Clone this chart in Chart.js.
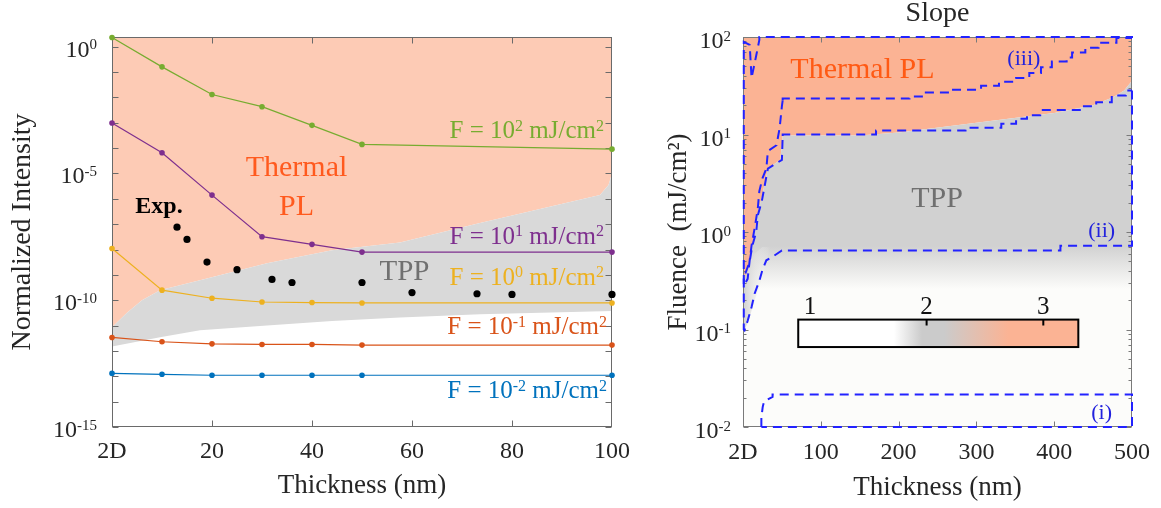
<!DOCTYPE html>
<html><head><meta charset="utf-8">
<script src="https://cdn.jsdelivr.net/npm/chart.js@4.4.0/dist/chart.umd.min.js"></script>
<style>
html,body{margin:0;padding:0;background:#fff;width:1161px;height:508px;overflow:hidden}
#l{position:absolute;left:0;top:0}
#r{position:absolute;left:640px;top:0}
</style></head><body>
<canvas id="l" width="640" height="508"></canvas>
<canvas id="r" width="521" height="508"></canvas>
<script>
// ---------------- LEFT PANEL DATA ----------------
const thickness = [0, 10, 20, 30, 40, 50, 100];
const leftXTickValues = [0, 20, 40, 60, 80, 100];
const leftXTickLabels = ['2D', '20', '40', '60', '80', '100'];
const leftYDecades = [-15,-14,-13,-12,-11,-10,-9,-8,-7,-6,-5,-4,-3,-2,-1,0];
const leftYLabelExps = [0, -5, -10, -15];
const intensityF100 = [2.3, 0.16, 1.3e-2, 4.3e-3, 7.9e-4, 1.4e-4, 9.1e-5];
const intensityF10  = [9.8e-4, 6.6e-5, 1.4e-6, 3.2e-8, 1.6e-8, 7.9e-9, 7.9e-9];
const intensityF1   = [1.1e-8, 2.5e-10, 1.2e-10, 8.5e-11, 8.1e-11, 7.8e-11, 7.8e-11];
const intensityF01  = [3.4e-12, 2.3e-12, 1.9e-12, 1.8e-12, 1.8e-12, 1.7e-12, 1.7e-12];
const intensityF001 = [1.3e-13, 1.2e-13, 1.1e-13, 1.1e-13, 1.1e-13, 1.1e-13, 1.1e-13];
const expThickness = [13, 15, 19, 25, 32, 36, 50, 60, 73, 80, 100];
const expIntensity = [7.6e-8, 2.5e-8, 3.2e-9, 1.6e-9, 6.6e-10, 5.0e-10, 5.0e-10, 2.0e-10, 1.8e-10, 1.7e-10, 1.7e-10];
const tppTopThickness = [0, 3, 6, 9.6, 17.6, 31, 44, 57.6, 73.6, 97.6, 99.3, 100];
const tppTopIntensity = [8.5e-12, 3.2e-11, 1e-10, 2.5e-10, 6.2e-10, 2.9e-9, 9.3e-9, 1.9e-8, 1.1e-7, 1.4e-6, 3.5e-6, 1e-5];
const tppBottomThickness = [0, 9.6, 17.6, 31, 44, 57.6, 73.6, 100];
const tppBottomIntensity = [1.5e-12, 3.5e-12, 6.5e-12, 1.0e-11, 1.5e-11, 2.1e-11, 2.8e-11, 3.8e-11];

// ---------------- RIGHT PANEL DATA ----------------
const rightXTickValues = [0, 100, 200, 300, 400, 500];
const rightXTickLabels = ['2D', '100', '200', '300', '400', '500'];
const rightYDecades = [-2, -1, 0, 1, 2];
const thermalEdgeX = [0, 6, 10, 15, 19, 24, 28, 32, 48, 51, 150, 200, 300, 400, 450, 475, 490, 500];
const thermalEdgeF = [0.316, 0.355, 0.562, 1.0, 1.58, 2.24, 3.16, 4.47, 5.5, 9.77, 9.77, 10.5, 13.2, 16.6, 20, 24, 28.2, 35.5];
const grayFloorX = [0, 500];
const grayFloorF = [0.25, 0.25];
const edgeGrayX = [0, 0, 8, 15, 25, 35, 25, 15, 8, 0];
const edgeGrayF = [0.09, 0.32, 0.45, 0.6, 0.7, 0.7, 0.35, 0.2, 0.13, 0.09];
const c3StairX = [51, 214, 235, 265, 306, 329, 351, 368, 383, 397, 416, 423, 440, 457, 480, 492, 500];
const c3StairF = [22.4, 23.4, 24.5, 26.9, 28.8, 31.6, 34.7, 38, 42.7, 49, 56.2, 61.7, 69.2, 77.6, 87.1, 97.7, 97.7];
const c3LoopX = [51, 50, 47, 43, 32, 30, 25, 21, 19, 17, 15, 11, 8.6, 6, 1, 1, 8.6, 11, 17, 21, 21, 500, 500];
const c3LoopF = [22.4, 19.5, 11.5, 7.76, 6.76, 4.47, 3.55, 2.63, 1.74, 1.38, 1.10, 0.724, 0.513, 0.331, 0.282, 89.1, 83.2, 38, 64.6, 93.3, 100, 100, 97.7];
const c2StairX = [51, 171, 286, 332, 351, 365, 382, 436, 454, 474, 492, 500];
const c2StairF = [9.66, 10, 11, 11.7, 12.9, 14.5, 15.8, 17.8, 19.5, 21.4, 25.1, 28.2];
const c2LoopX = [500, 500, 408, 408, 50, 37, 30, 25, 21, 15, 11, 6, 2, 1, 1, 2, 8.6, 12, 17, 19, 24, 28, 32, 50, 51];
const c2LoopF = [28.2, 0.724, 0.724, 0.646, 0.646, 0.55, 0.513, 0.407, 0.316, 0.234, 0.17, 0.123, 0.098, 0.1, 0.355, 0.355, 0.501, 0.724, 1.0, 1.48, 2.04, 3.02, 4.47, 5.5, 9.66];
const c1X = [23.6, 23.6, 25.3, 27, 38, 38, 500, 500, 23.6];
const c1F = [0.01, 0.0125, 0.016, 0.0182, 0.0204, 0.0216, 0.0216, 0.01, 0.01];
const colorbarTicks = [1, 2, 3];

// ---------------- helpers ----------------
const SERIF = '"Liberation Serif", "Times New Roman", serif';
Chart.defaults.font.family = SERIF;
Chart.defaults.color = '#262626';
Chart.defaults.animation = false;

const pts = (xs, ys) => xs.map((x, i) => ({x, y: ys[i]}));

function drawRich(ctx, parts, x, y, align, size, color, bold) {
  const sup = Math.round(size * 0.62);
  const f = s => (bold ? 'bold ' : '') + s + 'px ' + SERIF;
  let total = 0;
  for (const [t, s] of parts) { ctx.font = f(s ? sup : size); total += ctx.measureText(t).width; }
  let cx = align === 'right' ? x - total : align === 'center' ? x - total / 2 : x;
  ctx.fillStyle = color; ctx.textAlign = 'left'; ctx.textBaseline = 'alphabetic';
  for (const [t, s] of parts) {
    ctx.font = f(s ? sup : size);
    ctx.fillText(t, cx, s ? y - size * 0.3 : y);
    cx += ctx.measureText(t).width;
  }
}

const frameTicks = {
  id: 'frameTicks',
  afterDatasetDraw(chart, args, o) {
    if (args.index !== o.after) return;
    const {ctx, chartArea: a, scales: {x, y}} = chart;
    const L = Math.round(a.left) + 0.5, R = Math.round(a.right) - 0.5, T = Math.round(a.top) + 0.5, B = Math.round(a.bottom) - 0.5;
    ctx.save();
    ctx.strokeStyle = o.color; ctx.lineWidth = 1;
    ctx.beginPath();
    o.xMajor.forEach(v => { const p = Math.round(x.getPixelForValue(v)) + 0.5;
      ctx.moveTo(p, B); ctx.lineTo(p, B - o.len); ctx.moveTo(p, T); ctx.lineTo(p, T + o.len); });
    o.yMajor.forEach(v => { const p = Math.round(y.getPixelForValue(v)) + 0.5;
      ctx.moveTo(L, p); ctx.lineTo(L + o.len, p); ctx.moveTo(R, p); ctx.lineTo(R - o.len, p); });
    (o.yMinor || []).forEach(v => { const p = Math.round(y.getPixelForValue(v)) + 0.5;
      ctx.moveTo(L, p); ctx.lineTo(L + o.minorLen, p); ctx.moveTo(R, p); ctx.lineTo(R - o.minorLen, p); });
    ctx.stroke();
    ctx.strokeRect(L, T, R - L, B - T);
    ctx.restore();
  }
};

const annotate = {
  id: 'annotate',
  beforeDraw(chart, args, o) {
    if (!o.plotBg) return;
    const {ctx, chartArea: a} = chart;
    ctx.save(); ctx.fillStyle = o.plotBg; ctx.fillRect(a.left, a.top, a.right - a.left, a.bottom - a.top); ctx.restore();
  },
  afterDatasetsDraw(chart, args, o) {
    const {ctx, chartArea: a} = chart;
    ctx.save();
    for (const Lb of o.labels) {
      const x = a.left + Lb.fx * (a.right - a.left);
      const y = a.top + Lb.fy * (a.bottom - a.top) + Lb.size * 0.34;
      drawRich(ctx, Lb.parts, x, y, Lb.align || 'center', Lb.size, Lb.color, Lb.bold);
    }
    ctx.restore();
  },
  afterDraw(chart, args, o) {
    const {ctx, chartArea: a, scales: {y}} = chart;
    ctx.save();
    for (const e of o.yExp) {
      const p = y.getPixelForValue(10 ** e);
      drawRich(ctx, [['10', false], [String(e), true]], a.left - o.yGap, p + o.yDrop, 'right', 24, '#262626');
    }
    if (o.title) drawRich(ctx, [[o.title, false]], (a.left + a.right) / 2, o.titleBaseline, 'center', o.titleSize, '#262626');
    ctx.restore();
  }
};

const colorbar = {
  id: 'colorbar',
  afterDatasetsDraw(chart, args, o) {
    const {ctx, chartArea: a} = chart;
    const W = a.right - a.left, H = a.bottom - a.top;
    const x0 = a.left + o.fx0 * W, x1 = a.left + o.fx1 * W, y0 = a.top + o.fy0 * H, y1 = a.top + o.fy1 * H;
    const vx = v => x0 + (v - o.min) / (o.max - o.min) * (x1 - x0);
    ctx.save();
    const g = ctx.createLinearGradient(x0, 0, x1, 0);
    o.stops.forEach(([v, c]) => g.addColorStop((v - o.min) / (o.max - o.min), c));
    ctx.fillStyle = g; ctx.fillRect(x0, y0, x1 - x0, y1 - y0);
    ctx.strokeStyle = '#000'; ctx.lineWidth = 2; ctx.strokeRect(x0, y0, x1 - x0, y1 - y0);
    ctx.beginPath();
    o.ticks.forEach(v => { if (v > o.min + 0.2) { ctx.moveTo(vx(v), y0); ctx.lineTo(vx(v), y0 + 6); } });
    ctx.stroke();
    o.ticks.forEach(v => drawRich(ctx, [[String(v), false]], vx(v), y0 - 6, 'center', 25, '#111'));
    ctx.restore();
  }
};

// ---------------- LEFT CHART ----------------
const lineDs = (data, color, order) => ({
  data: pts(thickness, data), showLine: true, borderColor: color, backgroundColor: color,
  borderWidth: 1.2, pointRadius: 2.8, pointHoverRadius: 2.8, pointBorderWidth: 0, clip: false, order, fill: false
});

new Chart(document.getElementById('l'), {
  type: 'scatter',
  data: { datasets: [
    { data: pts(tppTopThickness, tppTopIntensity), showLine: true, borderWidth: 0, borderColor: 'rgba(0,0,0,0)',
      pointRadius: 0, fill: 'end', backgroundColor: '#FDCBB5', order: 20 },
    { data: pts(tppBottomThickness, tppBottomIntensity), showLine: true, borderWidth: 0, borderColor: 'rgba(0,0,0,0)',
      pointRadius: 0, fill: 0, backgroundColor: '#D9D9D9', order: 19 },
    lineDs(intensityF100, '#77AC30', 6),
    lineDs(intensityF10, '#7E2F8E', 5),
    lineDs(intensityF1, '#EDB120', 4),
    lineDs(intensityF01, '#D95319', 3),
    lineDs(intensityF001, '#0072BD', 2),
    { data: pts(expThickness, expIntensity), showLine: false, pointRadius: 3.6, pointHoverRadius: 3.6,
      backgroundColor: '#000', borderWidth: 0, clip: false, order: 1 }
  ]},
  options: {
    responsive: false, devicePixelRatio: 1, animation: false,
    layout: { padding: { top: 37, right: 27, left: 0, bottom: 0 } },
    plugins: {
      legend: { display: false }, tooltip: { enabled: false },
      frameTicks: { after: 1, color: '#6a6a6a', len: 6, xMajor: [20, 40, 60, 80], yMajor: leftYDecades.map(e => 10 ** e) },
      annotate: {
        yExp: leftYLabelExps, yGap: 15, yDrop: 10,
        labels: [
          { parts: [['Thermal', false]], fx: 0.369, fy: 0.331, size: 30, color: '#FF5A1E' },
          { parts: [['PL', false]], fx: 0.369, fy: 0.431, size: 30, color: '#FF5A1E' },
          { parts: [['Exp.', false]], fx: 0.094, fy: 0.431, size: 24, color: '#000', bold: true },
          { parts: [['TPP', false]], fx: 0.585, fy: 0.597, size: 29, color: '#707070' },
          { parts: [['F = 10', false], ['2', true], [' mJ/cm', false], ['2', true]], fx: 0.984, fy: 0.238, size: 25, color: '#77AC30', align: 'right' },
          { parts: [['F = 10', false], ['1', true], [' mJ/cm', false], ['2', true]], fx: 0.984, fy: 0.508, size: 25, color: '#7E2F8E', align: 'right' },
          { parts: [['F = 10', false], ['0', true], [' mJ/cm', false], ['2', true]], fx: 0.984, fy: 0.613, size: 25, color: '#EDB120', align: 'right' },
          { parts: [['F = 10', false], ['-1', true], [' mJ/cm', false], ['2', true]], fx: 0.990, fy: 0.741, size: 25, color: '#D95319', align: 'right' },
          { parts: [['F = 10', false], ['-2', true], [' mJ/cm', false], ['2', true]], fx: 0.990, fy: 0.905, size: 25, color: '#0072BD', align: 'right' }
        ]
      }
    },
    scales: {
      x: { type: 'linear', min: 0, max: 100,
        afterFit: s => { s.height = 81; },
        afterBuildTicks: s => { s.ticks = leftXTickValues.map(v => ({ value: v })); },
        grid: { display: false, drawTicks: false }, border: { display: false },
        ticks: { autoSkip: false, maxRotation: 0, padding: 10, font: { size: 24 }, color: '#262626',
          callback: v => leftXTickLabels[leftXTickValues.indexOf(v)] },
        title: { display: true, text: 'Thickness (nm)', font: { size: 27 }, color: '#262626', padding: { top: 0, bottom: 6 } } },
      y: { type: 'logarithmic', min: 1e-15, max: 2.41,
        afterFit: s => { s.width = 112; },
        grid: { display: false, drawTicks: false }, border: { display: false },
        ticks: { display: false },
        title: { display: true, text: 'Normalized Intensity', font: { size: 28 }, color: '#262626', padding: { top: 6, bottom: 0 } } }
    }
  },
  plugins: [frameTicks, annotate]
});

// ---------------- RIGHT CHART ----------------
function grayFade(c) {
  const ch = c.chart;
  if (!ch.chartArea) return '#D1D1D1';
  const y = ch.scales.y;
  const g = ch.ctx.createLinearGradient(0, y.getPixelForValue(0.72), 0, y.getPixelForValue(0.26));
  g.addColorStop(0, '#D1D1D1'); g.addColorStop(1, '#FCFCFA');
  return g;
}
function edgeFade(c) {
  const ch = c.chart;
  if (!ch.chartArea) return 'rgba(209,209,209,0.6)';
  const x = ch.scales.x;
  const g = ch.ctx.createLinearGradient(x.getPixelForValue(0), 0, x.getPixelForValue(35), 0);
  g.addColorStop(0, 'rgba(205,205,205,0.95)'); g.addColorStop(1, 'rgba(252,252,250,0)');
  return g;
}
const contourDs = (xs, fs, stepped) => ({
  data: pts(xs, fs), showLine: true, borderColor: '#2222FF', borderWidth: 2, borderDash: [9, 6],
  pointRadius: 0, fill: false, stepped: stepped || false, clip: 4, order: 1
});

new Chart(document.getElementById('r'), {
  type: 'scatter',
  data: { datasets: [
    { data: pts(thermalEdgeX, thermalEdgeF), showLine: true, borderWidth: 0, borderColor: 'rgba(0,0,0,0)',
      pointRadius: 0, fill: 'end', backgroundColor: '#FBB394', order: 20 },
    { data: pts(grayFloorX, grayFloorF), showLine: true, borderWidth: 0, borderColor: 'rgba(0,0,0,0)',
      pointRadius: 0, fill: 0, backgroundColor: grayFade, order: 19 },
    { data: pts(edgeGrayX, edgeGrayF), showLine: true, borderWidth: 0, borderColor: 'rgba(0,0,0,0)',
      pointRadius: 0, fill: 'shape', backgroundColor: edgeFade, order: 18 },
    contourDs(c3StairX, c3StairF, 'after'),
    contourDs(c3LoopX, c3LoopF),
    contourDs(c2StairX, c2StairF, 'after'),
    contourDs(c2LoopX, c2LoopF),
    contourDs(c1X, c1F)
  ]},
  options: {
    responsive: false, devicePixelRatio: 1, animation: false,
    layout: { padding: { top: 37, right: 28, left: 0, bottom: 0 } },
    plugins: {
      legend: { display: false }, tooltip: { enabled: false },
      frameTicks: { after: 2, color: '#7a7a7a', len: 5, minorLen: 3, xMajor: [100, 200, 300, 400],
        yMajor: rightYDecades.map(e => 10 ** e),
        yMinor: [-2, -1, 0, 1].flatMap(d => [2, 3, 4, 5, 6, 7, 8, 9].map(m => m * 10 ** d)) },
      annotate: {
        plotBg: '#FCFCFA',
        yExp: rightYDecades.slice().reverse(), yGap: 12, yDrop: 11,
        title: 'Slope', titleBaseline: 21, titleSize: 28,
        labels: [
          { parts: [['Thermal PL', false]], fx: 0.307, fy: 0.080, size: 30, color: '#FF5A14' },
          { parts: [['TPP', false]], fx: 0.499, fy: 0.411, size: 30, color: '#707070' },
          { parts: [['(iii)', false]], fx: 0.722, fy: 0.052, size: 22, color: '#2222DD' },
          { parts: [['(ii)', false]], fx: 0.922, fy: 0.493, size: 22, color: '#2222DD' },
          { parts: [['(i)', false]], fx: 0.922, fy: 0.960, size: 22, color: '#2222DD' }
        ]
      },
      colorbar: { fx0: 0.142, fx1: 0.862, fy0: 0.7246, fy1: 0.795, min: 0.9, max: 3.3, ticks: colorbarTicks,
        stops: [[0.9, '#FFFFFF'], [1.72, '#FFFFFF'], [1.96, '#CBCBCB'], [2.15, '#CBCBCB'], [2.7, '#FBB394'], [3.3, '#FBB394']] }
    },
    scales: {
      x: { type: 'linear', min: 0, max: 500,
        afterFit: s => { s.height = 81; },
        afterBuildTicks: s => { s.ticks = rightXTickValues.map(v => ({ value: v })); },
        grid: { display: false, drawTicks: false }, border: { display: false },
        ticks: { autoSkip: false, maxRotation: 0, padding: 11, font: { size: 24 }, color: '#262626',
          callback: v => rightXTickLabels[rightXTickValues.indexOf(v)] },
        title: { display: true, text: 'Thickness (nm)', font: { size: 27 }, color: '#262626', padding: { top: 0, bottom: 4 } } },
      y: { type: 'logarithmic', min: 0.01, max: 100,
        afterFit: s => { s.width = 103; },
        grid: { display: false, drawTicks: false }, border: { display: false },
        ticks: { display: false },
        title: { display: true, text: 'Fluence  (mJ/cm²)', font: { size: 27 }, color: '#262626', padding: { top: 23, bottom: 0 } } }
    }
  },
  plugins: [frameTicks, annotate, colorbar]
});
</script>
</body></html>
